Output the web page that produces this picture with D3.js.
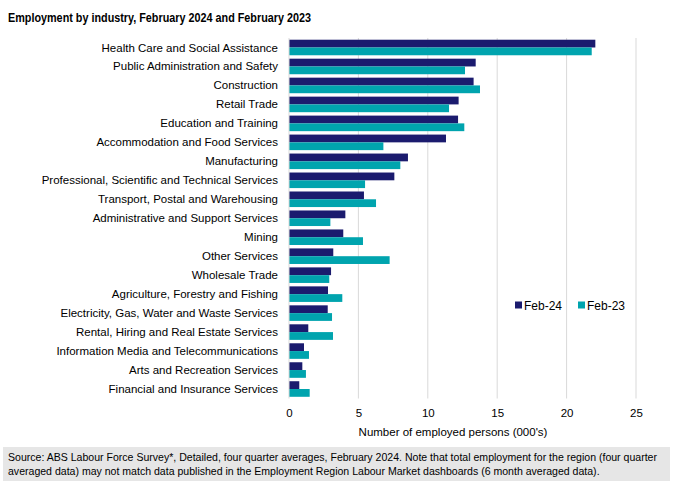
<!DOCTYPE html>
<html><head><meta charset="utf-8">
<script src="https://cdn.jsdelivr.net/npm/d3@7/dist/d3.min.js"></script>
<style>
body{margin:0;background:#fff;font-family:"Liberation Sans",Arial,sans-serif;}
</style></head>
<body><svg id="c" width="675" height="484"></svg>
<script>
const categories = ["Health Care and Social Assistance","Public Administration and Safety","Construction","Retail Trade","Education and Training","Accommodation and Food Services","Manufacturing","Professional, Scientific and Technical Services","Transport, Postal and Warehousing","Administrative and Support Services","Mining","Other Services","Wholesale Trade","Agriculture, Forestry and Fishing","Electricity, Gas, Water and Waste Services","Rental, Hiring and Real Estate Services","Information Media and Telecommunications","Arts and Recreation Services","Financial and Insurance Services"];
const feb24 = [22.07,13.45,13.3,12.22,12.18,11.31,8.57,7.59,5.4,4.06,3.91,3.19,3.03,2.81,2.79,1.39,1.08,0.96,0.74];
const feb23 = [21.81,12.68,13.76,11.53,12.63,6.8,8.02,5.48,6.27,2.98,5.33,7.25,2.9,3.84,3.1,3.17,1.44,1.22,1.49];
const seriesNames = ["Feb-24","Feb-23"];
const xTicks = [0,5,10,15,20,25];
const title = "Employment by industry, February 2024 and February 2023";
const xTitle = "Number of employed persons (000's)";
const footer = ["Source: ABS Labour Force Survey*, Detailed, four quarter averages, February 2024. Note that total employment for the region (four quarter","averaged data) may not match data published in the Employment Region Labour Market dashboards (6 month averaged data)."];

const colors = ["#1b1b6e","#00a4ae"];
const svg = d3.select("#c");
const x = d3.scaleLinear().domain([0,25]).range([289,636]);
const y = d3.scaleBand().domain(categories).range([38,398.5]).paddingInner(0.18).paddingOuter(0.09);
const sub = d3.scaleBand().domain(seriesNames).range([0,y.bandwidth()]).padding(0);

svg.append("text").attr("x",8).attr("y",22).attr("font-size",13.5).attr("font-weight","bold")
  .attr("textLength",303).attr("lengthAdjust","spacingAndGlyphs").attr("fill","#000").text(title);

// gridlines
svg.append("g").selectAll("line").data(xTicks.slice(1)).join("line")
  .attr("x1",d=>x(d)).attr("x2",d=>x(d)).attr("y1",38).attr("y2",398.5)
  .attr("stroke","#d9d9d9").attr("stroke-width",1);

const data = categories.map((c,i)=>({c, vals:[feb24[i],feb23[i]]}));
const g = svg.append("g");
data.forEach(d=>{
  g.selectAll(null).data(d.vals).join("rect")
    .attr("x",x(0)).attr("y",(v,j)=>y(d.c)+sub(seriesNames[j]))
    .attr("width",v=>x(v)-x(0)).attr("height",sub.bandwidth())
    .attr("fill",(v,j)=>colors[j]);
});

// axis line at 0
svg.append("line").attr("x1",x(0)).attr("x2",x(0)).attr("y1",38).attr("y2",398.5).attr("stroke","#d9d9d9");

// category labels
svg.append("g").selectAll("text").data(categories).join("text")
  .attr("x",278).attr("y",d=>y(d)+y.bandwidth()/2).attr("dy","0.35em")
  .attr("text-anchor","end").attr("font-size",11.5).attr("fill","#000").text(d=>d);

// x axis
const xa = svg.append("g").attr("transform","translate(0,398.5)")
  .call(d3.axisBottom(x).tickValues(xTicks).tickSize(0).tickPadding(10));
xa.select(".domain").remove();
xa.selectAll("text").attr("font-size",11.5).attr("fill","#000").attr("font-family","Liberation Sans, Arial, sans-serif");

svg.append("text").attr("x",453).attr("y",436).attr("text-anchor","middle").attr("font-size",11.5).attr("fill","#000").text(xTitle);

// legend
const leg = svg.append("g");
const lx = [515,578];
seriesNames.forEach((s,i)=>{
  leg.append("rect").attr("x",lx[i]).attr("y",301.5).attr("width",7).attr("height",7).attr("fill",colors[i]);
  leg.append("text").attr("x",lx[i]+9).attr("y",309.5).attr("font-size",12).attr("fill","#000").text(s);
});

// footer
svg.append("rect").attr("x",3).attr("y",447).attr("width",667).attr("height",34).attr("fill","#e6e6e6");
svg.append("g").selectAll("text").data(footer).join("text")
  .attr("x",8).attr("y",(d,i)=>461+i*14).attr("font-size",10.55).attr("fill","#000").text(d=>d);
</script>
</body></html>
